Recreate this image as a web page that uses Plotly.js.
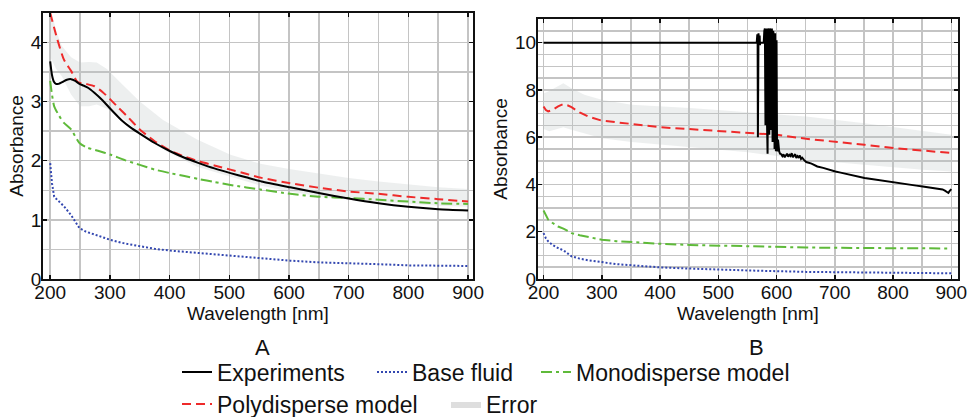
<!DOCTYPE html>
<html>
<head>
<meta charset="utf-8">
<script src="https://cdn.plot.ly/plotly-3.0.1.min.js"></script>
<style>html,body{margin:0;padding:0;background:#fff;}#chart{width:967px;height:417px;}</style>
</head>
<body>
<div id="chart"></div>
<script>
// ---------- Panel A ----------
const lamA_exp = [200, 203, 206, 209.5, 214, 220, 228, 235, 242, 249, 256, 264, 274, 288, 301.5, 320, 335, 350, 375, 401, 425, 449, 475, 502, 528, 554, 602, 652, 700, 750, 800, 850, 900];
const expA     = [3.68, 3.45, 3.34, 3.30, 3.30, 3.33, 3.37, 3.38, 3.35, 3.30, 3.27, 3.23, 3.15, 3.02, 2.87, 2.68, 2.56, 2.46, 2.30, 2.16, 2.05, 1.96, 1.87, 1.79, 1.72, 1.65, 1.55, 1.45, 1.36, 1.28, 1.22, 1.18, 1.16];

const lamA_poly = [200, 212, 223, 235, 246, 260, 274, 288, 301.5, 315, 329, 350, 375, 401, 425, 449, 475, 502, 528, 554, 602, 652, 700, 750, 800, 850, 900];
const polyA     = [4.5, 4.05, 3.71, 3.52, 3.33, 3.30, 3.26, 3.16, 3.03, 2.89, 2.75, 2.53, 2.33, 2.17, 2.07, 1.99, 1.92, 1.85, 1.78, 1.71, 1.62, 1.54, 1.48, 1.44, 1.39, 1.35, 1.31];

const lamA_mono = [200, 203, 206.7, 215, 223, 235, 249, 262.5, 280, 301.5, 325, 350, 375, 401, 425, 449, 475, 502, 554, 602, 652, 700, 750, 800, 850, 900];
const monoA     = [3.35, 3.12, 2.92, 2.76, 2.64, 2.53, 2.30, 2.22, 2.17, 2.10, 2.01, 1.93, 1.85, 1.79, 1.74, 1.69, 1.64, 1.59, 1.51, 1.44, 1.39, 1.37, 1.34, 1.31, 1.28, 1.27];

const lamA_base = [200, 203, 206.7, 215, 223, 235, 249, 260, 274, 301.5, 325, 350, 375, 401, 449, 502, 554, 602, 652, 700, 750, 800, 850, 900];
const baseA     = [1.96, 1.62, 1.39, 1.30, 1.23, 1.08, 0.86, 0.80, 0.75, 0.66, 0.60, 0.55, 0.51, 0.48, 0.44, 0.39, 0.35, 0.31, 0.28, 0.27, 0.25, 0.23, 0.22, 0.22];

const lamA_err = [200, 210, 219.5, 235, 250, 265, 278, 295, 318, 350, 389, 446, 502, 552, 600, 650, 700, 750, 800, 850, 900];
const errA_hi  = [4.6, 4.2, 3.94, 3.75, 3.66, 3.67, 3.66, 3.55, 3.32, 3.00, 2.69, 2.36, 2.10, 1.95, 1.86, 1.78, 1.71, 1.65, 1.60, 1.55, 1.52];
const errA_lo  = [3.75, 3.55, 3.43, 3.12, 2.92, 2.92, 2.95, 2.88, 2.75, 2.47, 2.19, 1.90, 1.73, 1.58, 1.48, 1.40, 1.34, 1.30, 1.27, 1.24, 1.22];

// ---------- Panel B ----------
const lamB_exp = [200, 566, 567, 567.5, 568, 568.5, 569, 570, 571, 571.5,
                  572, 575, 578, 579, 580, 581, 581.7, 582.5, 583.5, 584.6,
                  585.5, 586.5, 587.5, 588.5, 589.5, 590.9, 592, 593.2, 594.2, 595.3,
                  596.6, 597.7, 598.9, 600, 600.8, 601.7, 602.5, 603.5, 604.5, 606,
                  608, 610, 612, 614, 615.6, 618, 620, 622, 624, 626,
                  628, 630, 632, 634, 636, 638, 640, 642, 644, 647,
                  651, 660, 670, 680, 690, 701, 710, 720, 730, 740,
                  751, 760, 770, 780, 790, 801, 810, 820, 830, 840,
                  851, 860, 870, 880, 885, 889, 892, 895, 897, 900];
const expB     = [10.0, 10.0, 10.35, 10.3, 6.0, 10.3, 10.4, 10.0, 10.3, 9.9,
                  10.0, 10.0, 10.0, 10.5, 10.6, 6.5, 10.5, 10.6, 6.8, 5.3,
                  10.6, 10.5, 6.1, 10.6, 10.4, 6.3, 10.6, 5.8, 10.5, 10.3,
                  5.5, 10.4, 5.4, 10.1, 5.6, 5.4, 5.9, 5.5, 5.4, 5.3,
                  5.28, 5.2, 5.27, 5.15, 5.2, 5.3, 5.18, 5.25, 5.2, 5.32,
                  5.15, 5.22, 5.28, 5.12, 5.2, 5.15, 5.22, 5.08, 5.13, 5.04,
                  4.95, 4.88, 4.76, 4.70, 4.62, 4.55, 4.50, 4.44, 4.39, 4.33,
                  4.27, 4.24, 4.20, 4.16, 4.13, 4.10, 4.06, 4.02, 3.98, 3.95,
                  3.91, 3.88, 3.85, 3.81, 3.79, 3.74, 3.70, 3.64, 3.72, 3.80];

const lamB_poly = [200, 204, 208, 215, 225, 234, 241, 248, 262, 277, 300, 325, 351, 401, 451, 502, 551, 601, 651, 701, 751, 801, 851, 900];
const polyB     = [7.30, 7.15, 7.09, 7.15, 7.30, 7.40, 7.35, 7.27, 7.05, 6.87, 6.70, 6.62, 6.56, 6.42, 6.34, 6.28, 6.21, 6.10, 5.93, 5.82, 5.68, 5.54, 5.42, 5.33];

const lamB_mono = [200, 204, 208, 215, 225, 235, 248, 262, 277, 300, 325, 351, 401, 451, 502, 551, 651, 751, 851, 900];
const monoB     = [2.90, 2.68, 2.51, 2.38, 2.22, 2.12, 1.94, 1.85, 1.77, 1.66, 1.60, 1.56, 1.49, 1.44, 1.41, 1.38, 1.33, 1.31, 1.30, 1.29];

const lamB_base = [200, 204, 208, 215, 225, 235, 248, 262, 277, 300, 325, 351, 401, 451, 502, 551, 651, 751, 851, 900];
const baseB     = [1.94, 1.72, 1.59, 1.45, 1.31, 1.20, 0.96, 0.86, 0.79, 0.70, 0.63, 0.58, 0.49, 0.44, 0.39, 0.36, 0.30, 0.27, 0.25, 0.24];

const lamB_err = [200, 210, 234, 248, 270, 300, 351, 451, 551, 651, 751, 851, 900];
const errB_hi  = [7.85, 7.95, 8.28, 8.07, 7.80, 7.58, 7.37, 7.23, 7.05, 6.87, 6.59, 6.28, 6.10];
const errB_lo  = [6.35, 6.25, 6.42, 6.31, 6.15, 5.96, 5.80, 5.58, 5.36, 5.04, 4.83, 4.62, 4.55];

// ---------- Labels ----------
const seriesNames = ['Experiments', 'Base fluid', 'Monodisperse model', 'Polydisperse model', 'Error'];
const panelLabels = ['A', 'B'];
const xTitle = 'Wavelength [nm]';
const yTitle = 'Absorbance';

// ---------- Styles ----------
const C_EXP = '#000000', C_BASE = '#3347b0', C_MONO = '#5fba3a', C_POLY = '#ee2a2a';
const C_ERR = 'rgba(185,192,192,0.25)';
const C_ERR_LEG = '#dedede';
const DASH_POLY = '9px,5px', DASH_MONO = '11px,4px,3px,4px', DASH_BASE = '2px,2px';

function band(lam, hi, lo) {
  return { x: lam.concat(lam.slice().reverse()), y: hi.concat(lo.slice().reverse()) };
}
const bA = band(lamA_err, errA_hi, errA_lo);
const bB = band(lamB_err, errB_hi, errB_lo);

const traces = [
  // Panel A
  {x: bA.x, y: bA.y, xaxis: 'x', yaxis: 'y', fill: 'toself', fillcolor: C_ERR, mode: 'lines', line: {width: 0, color: C_ERR}, showlegend: false},
  {x: lamA_base, y: baseA, xaxis: 'x', yaxis: 'y', mode: 'lines', line: {color: C_BASE, width: 2, dash: DASH_BASE}, name: seriesNames[1], legend: 'legend2'},
  {x: lamA_mono, y: monoA, xaxis: 'x', yaxis: 'y', mode: 'lines', line: {color: C_MONO, width: 2, dash: DASH_MONO, shape: 'spline', smoothing: 0.6}, name: seriesNames[2], legend: 'legend3'},
  {x: lamA_poly, y: polyA, xaxis: 'x', yaxis: 'y', mode: 'lines', line: {color: C_POLY, width: 2, dash: DASH_POLY, shape: 'spline', smoothing: 0.6}, name: seriesNames[3], legend: 'legend4'},
  {x: lamA_exp, y: expA, xaxis: 'x', yaxis: 'y', mode: 'lines', line: {color: C_EXP, width: 2, shape: 'spline', smoothing: 0.6}, name: seriesNames[0], legend: 'legend'},
  // legend swatch for the error band
  {x: [null], y: [null], xaxis: 'x', yaxis: 'y', fill: 'toself', fillcolor: C_ERR_LEG, mode: 'lines', line: {width: 0, color: C_ERR_LEG}, name: seriesNames[4], legend: 'legend5', showlegend: true},
  // Panel B
  {x: bB.x, y: bB.y, xaxis: 'x2', yaxis: 'y2', fill: 'toself', fillcolor: C_ERR, mode: 'lines', line: {width: 0, color: C_ERR}, showlegend: false},
  {x: lamB_base, y: baseB, xaxis: 'x2', yaxis: 'y2', mode: 'lines', line: {color: C_BASE, width: 2, dash: DASH_BASE}, showlegend: false},
  {x: lamB_mono, y: monoB, xaxis: 'x2', yaxis: 'y2', mode: 'lines', line: {color: C_MONO, width: 2, dash: DASH_MONO}, showlegend: false},
  {x: lamB_poly, y: polyB, xaxis: 'x2', yaxis: 'y2', mode: 'lines', line: {color: C_POLY, width: 2, dash: DASH_POLY}, showlegend: false},
  {x: lamB_exp, y: expB, xaxis: 'x2', yaxis: 'y2', mode: 'lines', line: {color: C_EXP, width: 2}, showlegend: false}
];

const FONT = 'Liberation Sans, Arial, Helvetica, sans-serif';
const GRID = '#c4c4c4';

function xAx(domain, range, anchor) {
  return {
    domain: domain, range: range, anchor: anchor,
    tickvals: [200, 300, 400, 500, 600, 700, 800, 900],
    showline: true, linecolor: '#111', linewidth: 2, mirror: 'ticks',
    ticks: 'inside', ticklen: 4, tickwidth: 1.5, tickcolor: '#111',
    ticklabelstandoff: -5, ticklabeloverflow: 'allow',
    showgrid: true, gridcolor: GRID, gridwidth: 1.5, zeroline: false,
    minor: {dtick: 50, tick0: 200, showgrid: true, gridcolor: GRID, gridwidth: 1.5, ticks: ''},
    tickfont: {family: FONT, size: 19, color: '#111'},
    title: {text: xTitle, font: {family: FONT, size: 19, color: '#111'}, standoff: 5},
    fixedrange: true
  };
}
function yAx(domain, range, anchor, dtick) {
  return {
    domain: domain, range: range, anchor: anchor, dtick: dtick, tick0: 0,
    showline: true, linecolor: '#111', linewidth: 2, mirror: 'ticks',
    ticks: 'inside', ticklen: 4, tickwidth: 1.5, tickcolor: '#111',
    ticklabelstandoff: -4, ticklabeloverflow: 'allow',
    showgrid: true, gridcolor: GRID, gridwidth: 1.5, zeroline: false,
    minor: {dtick: 0.5, tick0: 0, showgrid: true, gridcolor: GRID, gridwidth: 1.5, ticks: ''},
    tickfont: {family: FONT, size: 19, color: '#111'},
    title: {text: yTitle, font: {family: FONT, size: 19, color: '#111'}, standoff: 2},
    fixedrange: true
  };
}

function leg(xpx, ypx) {
  return {x: xpx / 967, y: 1 - ypx / 417, xanchor: 'left', yanchor: 'middle', orientation: 'h',
          font: {family: FONT, size: 23, color: '#111'}, bgcolor: 'rgba(0,0,0,0)', borderwidth: 0};
}

const layout = {
  width: 967, height: 417,
  margin: {l: 0, r: 0, t: 0, b: 0, autoexpand: false},
  paper_bgcolor: '#ffffff', plot_bgcolor: '#ffffff',
  showlegend: true,
  xaxis: xAx([0.0445, 0.489], [188, 908], 'y'),
  yaxis: yAx([0.331, 0.969], [0, 4.5], 'x', 1),
  xaxis2: xAx([0.5563, 0.9907], [190.4, 911.5], 'y2'),
  yaxis2: yAx([0.331, 0.9544], [0, 11], 'x2', 2),
  legend: leg(177, 372),
  legend2: leg(372, 372),
  legend3: leg(536, 372),
  legend4: leg(177, 404),
  legend5: leg(446, 404),
  annotations: [
    {text: panelLabels[0], x: 262 / 967, y: 1 - 347 / 417, xref: 'paper', yref: 'paper', xanchor: 'center', yanchor: 'middle', showarrow: false, font: {family: FONT, size: 22, color: '#111'}},
    {text: panelLabels[1], x: 756 / 967, y: 1 - 347 / 417, xref: 'paper', yref: 'paper', xanchor: 'center', yanchor: 'middle', showarrow: false, font: {family: FONT, size: 22, color: '#111'}}
  ]
};

Plotly.newPlot('chart', traces, layout, {displayModeBar: false, staticPlot: true});
</script>
</body>
</html>
